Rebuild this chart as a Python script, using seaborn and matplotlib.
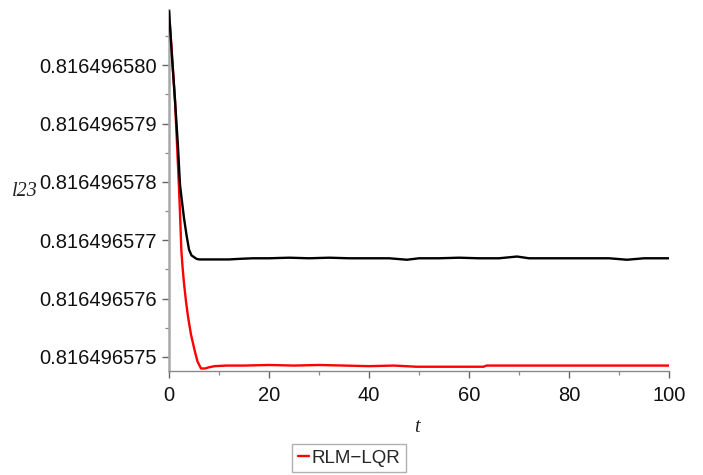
import matplotlib
matplotlib.use("Agg")
import matplotlib.pyplot as plt
from matplotlib.lines import Line2D
from matplotlib.ticker import FixedLocator, FormatStrFormatter
import numpy as np
import pandas as pd
import seaborn as sns

# Time samples and l23 response of the uncontrolled (black) trajectory
black_t = [0, 0.6, 1.2, 1.8, 2.2, 2.6, 3.0, 3.5, 4.0, 4.5, 5.0, 5.5, 6.1, 7.0,
           8.5, 10, 12, 14, 16.8, 20, 24, 28, 32, 36, 40, 44, 47.6, 50, 54,
           58, 62, 66, 69.6, 72, 76, 80, 84, 88, 91.6, 95, 100]
black_l23 = [0.81649658093, 0.81649658014, 0.81649657940, 0.81649657860,
             0.81649657795, 0.81649657766, 0.81649657738, 0.81649657709,
             0.81649657684, 0.81649657674, 0.81649657671, 0.81649657668,
             0.81649657667, 0.81649657667, 0.81649657667, 0.81649657667,
             0.81649657667, 0.81649657668, 0.81649657669, 0.81649657669,
             0.81649657670, 0.81649657669, 0.81649657670, 0.81649657669,
             0.81649657669, 0.81649657669, 0.816496576665, 0.81649657669,
             0.81649657669, 0.81649657670, 0.81649657669, 0.81649657669,
             0.81649657672, 0.81649657669, 0.81649657669, 0.81649657669,
             0.81649657669, 0.81649657669, 0.816496576665, 0.81649657669,
             0.81649657669]

# Time samples and l23 response under RLM-LQR control (red)
red_t = [0, 0.6, 1.2, 1.6, 2.0, 2.25, 2.47, 2.7, 3.0, 3.4, 3.8, 4.4, 5.1, 5.7,
         6.4, 7.2, 8.0, 9.1, 11.5, 15, 20, 25, 30, 35, 40, 45, 49.5, 55, 62.9,
         63.5, 70, 80, 90, 100]
red_l23 = [0.81649658093, 0.81649658017, 0.81649657940, 0.81649657865,
           0.81649657790, 0.81649657735, 0.81649657683, 0.81649657655,
           0.81649657626, 0.81649657595, 0.81649657569, 0.81649657538,
           0.81649657512, 0.81649657492, 0.81649657480, 0.81649657480,
           0.81649657482, 0.81649657484, 0.81649657485, 0.81649657485,
           0.81649657486, 0.81649657485, 0.81649657486, 0.81649657485,
           0.81649657484, 0.81649657485, 0.81649657483, 0.81649657483,
           0.81649657483, 0.81649657485, 0.81649657485, 0.81649657485,
           0.81649657485, 0.81649657485]

x_ticks = [0, 20, 40, 60, 80, 100]
x_minor = [10, 30, 50, 70, 90]
y_ticks = [0.816496575, 0.816496576, 0.816496577, 0.816496578,
           0.816496579, 0.816496580]
y_minor = [0.8164965745, 0.8164965755, 0.8164965765, 0.8164965775,
           0.8164965785, 0.8164965795, 0.8164965805]
legend_label = "RLM\u2212LQR"

sns.set_theme(style="white")
plt.rcParams["font.family"] = ["Liberation Sans", "DejaVu Sans"]

fig = plt.figure(figsize=(7.03, 4.75), dpi=100)
ax = fig.add_axes([169 / 703, 1 - 370.7 / 475, 500 / 703, 360.7 / 475])

black_df = pd.DataFrame({"t": black_t, "l23": black_l23})
red_df = pd.DataFrame({"t": red_t, "l23": red_l23})

sns.lineplot(data=black_df, x="t", y="l23", ax=ax, color="black",
             linewidth=1.7, zorder=3)
sns.lineplot(data=red_df, x="t", y="l23", ax=ax, color="#ff0000",
             linewidth=1.7, zorder=2)

ax.set_xlim(0, 100)
ax.set_ylim(0.816496574762, 0.816496580948)

ax.xaxis.set_major_locator(FixedLocator(x_ticks))
ax.xaxis.set_minor_locator(FixedLocator(x_minor))
ax.yaxis.set_major_locator(FixedLocator(y_ticks))
ax.yaxis.set_minor_locator(FixedLocator(y_minor))
ax.yaxis.set_major_formatter(FormatStrFormatter("%.9f"))

for side in ("top", "right"):
    ax.spines[side].set_visible(False)
ax.spines["left"].set_color("#a8a8a8")
ax.spines["left"].set_linewidth(1.8)
ax.spines["bottom"].set_color("#8a8a8a")
ax.spines["bottom"].set_linewidth(1.0)

ax.tick_params(axis="both", which="major", direction="out", length=5,
               width=1.0, color="#666666", labelsize=14.5,
               labelcolor="#111111", left=True, bottom=True)
ax.tick_params(axis="x", which="major", pad=6)
ax.tick_params(axis="y", which="major", pad=4)
ax.tick_params(axis="both", which="minor", direction="out", length=3,
               width=0.9, color="#888888", left=True, bottom=True)

ax.set_xlabel("")
ax.set_ylabel("")
fig.text(24.5 / 703, 1 - 192 / 475, "l23", family="Liberation Serif",
         style="italic", fontsize=14.5, ha="center", va="center",
         color="#222222")
fig.text(417 / 703, 1 - 428 / 475, "t", family="Liberation Serif",
         style="italic", fontsize=14.5, ha="center", va="center",
         color="#222222")

handle = Line2D([], [], color="#ff0000", linewidth=1.7)
leg = fig.legend(handles=[handle], labels=[legend_label], loc="center",
                 bbox_to_anchor=(349 / 703, 1 - 458 / 475), fontsize=13.5,
                 handlelength=0.6, handletextpad=0.15, borderpad=0.3,
                 borderaxespad=0, frameon=True, fancybox=False,
                 edgecolor="#b0b0b0", framealpha=1)
leg.get_frame().set_linewidth(1.0)

fig.savefig("out.png", dpi=100)
